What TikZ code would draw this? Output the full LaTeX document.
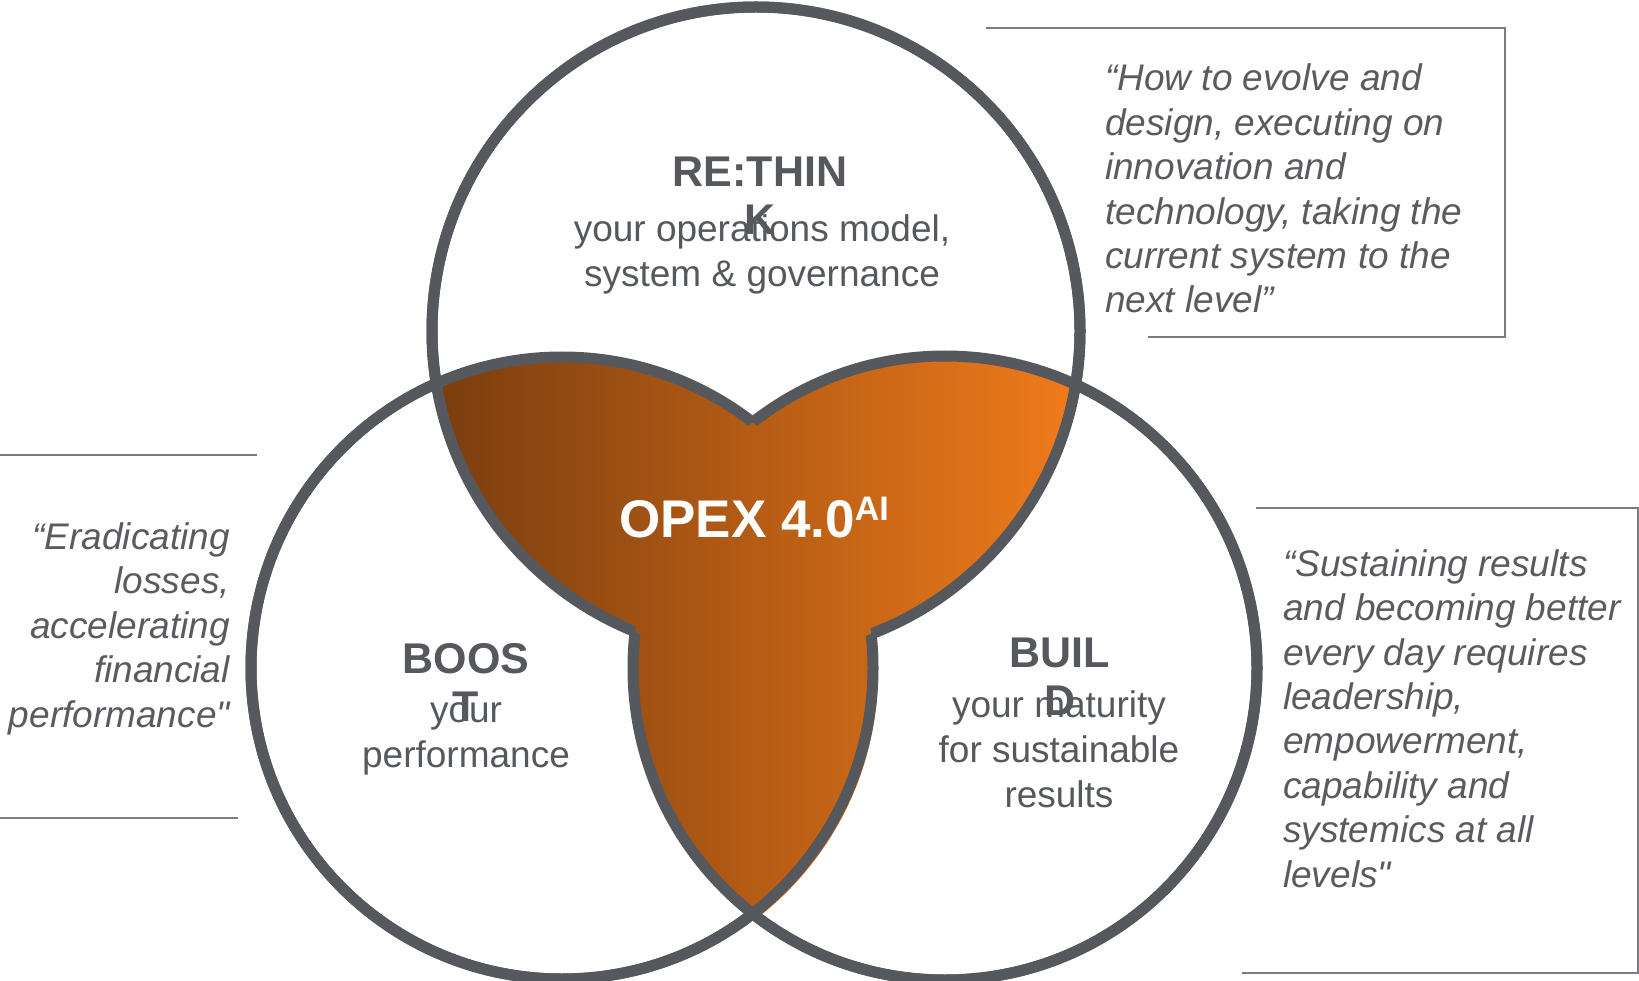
\documentclass[tikz,border=0pt]{standalone}
\usepackage{fontspec}
\setmainfont{Liberation Sans}[Ligatures=TeXOff]
\definecolor{ringgray}{HTML}{55585C}
\definecolor{textgray}{HTML}{55585C}
\definecolor{quotegray}{HTML}{595B5E}
\definecolor{linegray}{HTML}{7A7C7F}
\definecolor{opexdark}{HTML}{7A3D0F}
\definecolor{opexlight}{HTML}{F07B1B}
\definecolor{opexshadow}{HTML}{CF6516}

\tikzset{
  ring/.style={draw=ringgray, line width=11pt},
  headtext/.style={font=\fontsize{43}{48}\selectfont\bfseries, text=textgray, align=center, anchor=base, inner sep=0pt},
  bodytext/.style={font=\fontsize{37}{45}\selectfont, text=textgray, align=center, anchor=base, inner sep=0pt},
  quotetext/.style={font=\fontsize{37}{44.4}\selectfont\itshape, text=quotegray, inner sep=0pt},
  quoteline/.style={draw=linegray, line width=2pt},
}
\def\radtop{324pt}
\def\radleft{311pt}
\def\radright{312pt}

\begin{document}
\begin{tikzpicture}[x=1pt, y=-1pt]
\useasboundingbox (0,0) rectangle (1639,981);
% centres of the three rings
\coordinate (ctop) at (756,331);
\coordinate (cleft) at (562,668);
\coordinate (cright) at (945,668);

% shadow under the lower lens
\begin{scope}
  \clip ([xshift=5pt,yshift=-4pt]cleft) circle[radius=\radleft];
  \clip ([xshift=5pt,yshift=-4pt]cright) circle[radius=\radright];
  \fill[opexshadow] (400,300) rectangle (1100,981);
\end{scope}

% the overlaps
\foreach \ca/\ra/\cb/\rb in {ctop/\radtop/cleft/\radleft, ctop/\radtop/cright/\radright, cleft/\radleft/cright/\radright}{
  \begin{scope}
    \clip (\ca) circle[radius=\ra];
    \clip (\cb) circle[radius=\rb];
    \shade[left color=opexdark, right color=opexlight] (435,0) rectangle (1075,981);
  \end{scope}
}

% rings, hidden where they cross the centre
\foreach \ca/\ra/\cb/\rb in {ctop/\radtop/cleft/\radleft, ctop/\radtop/cright/\radright,
    cleft/\radleft/ctop/\radtop, cleft/\radleft/cright/\radright,
    cright/\radright/ctop/\radtop, cright/\radright/cleft/\radleft}{
  \begin{scope}[even odd rule]
    \clip (-20,-20) rectangle (1660,1000) (\cb) circle[radius=\rb];
    \draw[ring] (\ca) circle[radius=\ra];
  \end{scope}
}

% ring labels (anchored on their last line)
\node[headtext] (rethink) at (760,235) {RE:THIN\\K};
\node[bodytext] (rethinksub) at (762,287) {your operations model,\\system \& governance};
\node[headtext] (boost) at (466,721) {BOOS\\T};
\node[bodytext] (boostsub) at (466,767) {your\\performance};
\node[headtext] (build) at (1060,715) {BUIL\\D};
\node[bodytext] (buildsub) at (1059,807) {your maturity\\for sustainable\\results};
\node[anchor=base, inner sep=0pt, text=white, font=\fontsize{53}{60}\selectfont\bfseries] (opex) at (754,537)
  {OPEX 4.0\raisebox{17pt}{\fontsize{34}{34}\selectfont AI}};

% quotes
\node[quotetext, anchor=base west, align=left] (qrethink) at (1105,313)
  {“How to evolve and\\design, executing on\\innovation and\\technology, taking the\\current system to the\\next level”};
\node[quotetext, anchor=base east, align=right] (qboost) at (230,727)
  {“Eradicating\\losses,\\accelerating\\financial\\performance"};
\node[quotetext, anchor=base west, align=left] (qbuild) at (1283,887)
  {“Sustaining results\\and becoming better\\every day requires\\leadership,\\empowerment,\\capability and\\systemics at all\\levels"};

\draw[quoteline] (986,28) -- (1505,28) -- (1505,337) -- (1148,337);
\draw[quoteline] (0,455) -- (257,455);
\draw[quoteline] (0,818) -- (238,818);
\draw[quoteline] (1256,508) -- (1638,508) -- (1638,973) -- (1242,973);
\end{tikzpicture}
\end{document}
